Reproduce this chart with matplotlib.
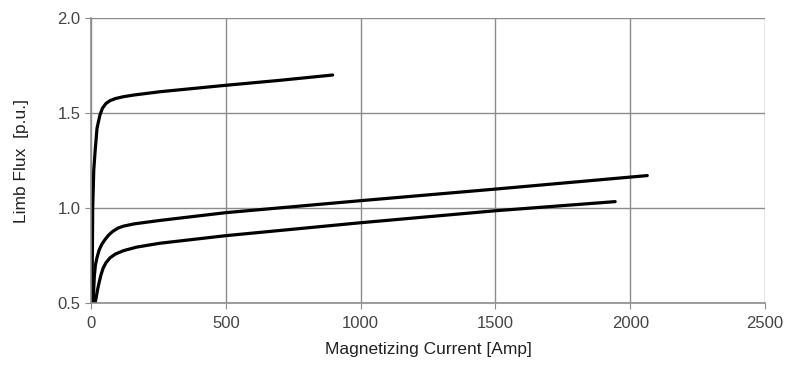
import numpy as np
import matplotlib.pyplot as plt

plt.rcParams['font.family'] = ['Liberation Sans', 'DejaVu Sans']

# magnetizing curves (current [A], flux [p.u.])
cur_top = [3, 5, 6, 10, 15, 22, 33, 42, 55, 70, 90, 120, 160, 255, 500, 700, 896]
flux_top = [0.5, 0.8, 1.0, 1.2, 1.3, 1.42, 1.49, 1.525, 1.55, 1.565, 1.576, 1.586, 1.595, 1.612, 1.646, 1.672, 1.70]

cur_mid = [8, 10, 12, 16, 22, 30, 40, 52, 65, 81, 100, 120, 160, 255, 500, 1000, 1500, 2063]
flux_mid = [0.5, 0.58, 0.64, 0.70, 0.74, 0.78, 0.81, 0.835, 0.858, 0.878, 0.895, 0.905, 0.917, 0.935, 0.976, 1.039, 1.10, 1.171]

cur_low = [15, 19, 24, 30, 37, 45, 55, 70, 90, 120, 170, 255, 500, 1000, 1500, 1944]
flux_low = [0.5, 0.53, 0.57, 0.61, 0.65, 0.685, 0.712, 0.738, 0.758, 0.776, 0.795, 0.815, 0.855, 0.923, 0.986, 1.034]

xticks = [0, 500, 1000, 1500, 2000, 2500]
yticks = [0.5, 1.0, 1.5, 2.0]

fig = plt.figure(figsize=(7.92, 3.67), dpi=100)
ax = fig.add_axes([0.115, 0.174, 0.851, 0.777])

for x, y in [(cur_top, flux_top), (cur_mid, flux_mid), (cur_low, flux_low)]:
	ax.plot(x, y, color='black', lw=2.3, solid_capstyle='round', solid_joinstyle='round')

ax.set_xlim(0, 2500)
ax.set_ylim(0.5, 2.0)
ax.set_xticks(xticks)
ax.set_yticks(yticks)
ax.set_xticklabels([str(t) for t in xticks])
ax.set_yticklabels(['%.1f' % t for t in yticks])
ax.grid(True, color='#8c8c8c', lw=1)
ax.set_axisbelow(True)
for s in ['top', 'right']:
	ax.spines[s].set_visible(False)
for s in ['left', 'bottom']:
	ax.spines[s].set_color('#8c8c8c')
	ax.spines[s].set_linewidth(1.2)
ax.tick_params(colors='#8c8c8c', labelcolor='#444444', labelsize=12, length=4)
ax.tick_params(axis='x', pad=5)

ax.set_xlabel('Magnetizing Current [Amp]', fontsize=12.5, color='#222222')
ax.set_ylabel('Limb Flux  [p.u.]', fontsize=12.5, color='#222222')
ax.xaxis.set_label_coords(0.5, -0.135)
ax.yaxis.set_label_coords(-0.092, 0.5)

fig.savefig('out.png', dpi=100)
